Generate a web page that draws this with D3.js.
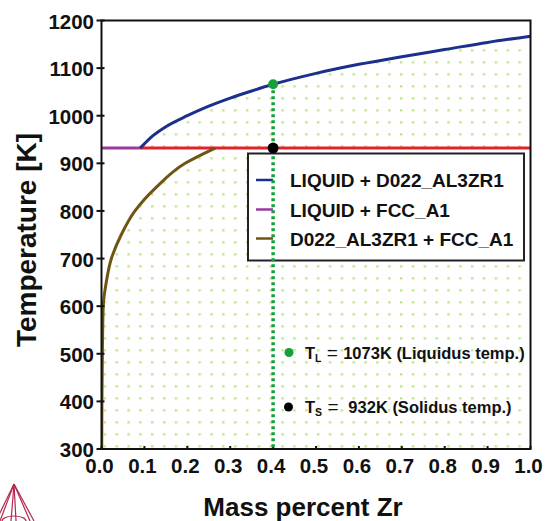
<!DOCTYPE html>
<html>
<head>
<meta charset="utf-8">
<script src="https://cdn.jsdelivr.net/npm/d3@7/dist/d3.min.js"></script>
<style>
body { margin: 0; background: #fff; }
text { font-family: "Liberation Sans", Arial, sans-serif; font-weight: bold; fill: #111; }
</style>
</head>
<body>
<svg id="chart" width="547" height="521"></svg>
<script>
// axis ticks
const xTicks = [0, 0.1, 0.2, 0.3, 0.4, 0.5, 0.6, 0.7, 0.8, 0.9, 1.0];
const yTicks = [300, 400, 500, 600, 700, 800, 900, 1000, 1100, 1200];

// liquidus (LIQUID + D022_AL3ZR1 boundary), mass % Zr vs K
const liqX = [0.09, 0.10, 0.12, 0.15, 0.20, 0.25, 0.30, 0.35, 0.40, 0.50, 0.60, 0.70, 0.80, 0.90, 1.00];
const liqT = [932, 941, 958, 977, 1000, 1020, 1037, 1052, 1066, 1089, 1108, 1124, 1139, 1154, 1167];

// solvus (D022_AL3ZR1 + FCC_A1 boundary)
const solT = [300, 400, 500, 600, 650, 700, 750, 800, 850, 900, 932];
const solX = [0.0005, 0.001, 0.002, 0.004, 0.011, 0.023, 0.046, 0.078, 0.128, 0.195, 0.265];

// horizontal at 932 K
const flatT = 932;
const flatStart = 0.09;

// marked composition
const markX = 0.4;
const markTL = 1066;
const markTS = 932;

const legendNames = ["LIQUID + D022_AL3ZR1", "LIQUID + FCC_A1", "D022_AL3ZR1 + FCC_A1"];
const legendColors = ["#1b2f8c", "#9a3a9f", "#6e5512"];

const svg = d3.select("#chart");

const pLeft = 101.5, pRight = 530.5, pTop = 20.5, pBottom = 449;

const x = d3.scaleLinear().domain([0, 1]).range([pLeft, pRight]);
const y = d3.scaleLinear().domain([300, 1200]).range([pBottom, pTop]);

const defs = svg.append("defs");
const pat = defs.append("pattern")
  .attr("id", "dots")
  .attr("patternUnits", "userSpaceOnUse")
  .attr("x", 115.5).attr("y", 277.1)
  .attr("width", 11.85).attr("height", 12);
pat.append("rect")
  .attr("width", 2.5).attr("height", 2.5)
  .attr("fill", "#c3ea8a");

defs.append("clipPath").attr("id", "plotclip")
  .append("rect")
  .attr("x", pLeft).attr("y", pTop)
  .attr("width", pRight - pLeft).attr("height", pBottom - pTop);

// two-phase area under liquidus and right of solvus
const liqPts = liqX.map((d, i) => [d, liqT[i]]);
const solPts = solX.map((d, i) => [d, solT[i]]);

const liqLine = d3.line().x(d => x(d[0])).y(d => y(d[1])).curve(d3.curveMonotoneX);
const solLine = d3.line().x(d => x(d[0])).y(d => y(d[1])).curve(d3.curveMonotoneY);

const areaPath = liqLine(liqPts)
  + "L" + x(1) + "," + y(300)
  + "L" + x(solX[0]) + "," + y(300)
  + solLine(solPts).replace(/^M/, "L")
  + "L" + x(flatStart) + "," + y(flatT) + "Z";

const g = svg.append("g").attr("clip-path", "url(#plotclip)");

g.append("path")
  .attr("d", areaPath)
  .attr("fill", "url(#dots)");

g.append("line")
  .attr("x1", x(0)).attr("x2", x(flatStart))
  .attr("y1", y(flatT)).attr("y2", y(flatT))
  .attr("stroke", legendColors[1]).attr("stroke-width", 3);
g.append("line")
  .attr("x1", x(flatStart)).attr("x2", x(1))
  .attr("y1", y(flatT)).attr("y2", y(flatT))
  .attr("stroke", "#e5202b").attr("stroke-width", 3);

g.append("path")
  .attr("d", liqLine(liqPts))
  .attr("fill", "none")
  .attr("stroke", legendColors[0]).attr("stroke-width", 3);

g.append("path")
  .attr("d", solLine(solPts))
  .attr("fill", "none")
  .attr("stroke", legendColors[2]).attr("stroke-width", 3);

// frame
svg.append("rect")
  .attr("x", pLeft).attr("y", pTop)
  .attr("width", pRight - pLeft).attr("height", pBottom - pTop)
  .attr("fill", "none").attr("stroke", "#111").attr("stroke-width", 2);

// ticks
svg.append("g").selectAll("line")
  .data(xTicks).enter().append("line")
  .attr("x1", d => x(d)).attr("x2", d => x(d))
  .attr("y1", pBottom).attr("y2", pBottom - 3)
  .attr("stroke", "#111").attr("stroke-width", 2);

svg.append("g").selectAll("line")
  .data(yTicks).enter().append("line")
  .attr("x1", pLeft - 5).attr("x2", pLeft + 3)
  .attr("y1", d => y(d)).attr("y2", d => y(d))
  .attr("stroke", "#111").attr("stroke-width", 2);

svg.append("g").selectAll("text")
  .data(xTicks).enter().append("text")
  .attr("x", d => x(d) - 2)
  .attr("y", 473)
  .attr("text-anchor", "middle")
  .style("font-size", "20.5px")
  .text(d => d3.format(".1f")(d));

svg.append("g").selectAll("text")
  .data(yTicks).enter().append("text")
  .attr("x", 94)
  .attr("y", d => y(d) + 8)
  .attr("text-anchor", "end")
  .style("font-size", "20.5px")
  .text(d => d);

// axis titles
svg.append("text")
  .attr("x", 303).attr("y", 516)
  .attr("text-anchor", "middle")
  .style("font-size", "26px")
  .text("Mass percent Zr");

svg.append("text")
  .attr("transform", "translate(36,240) rotate(-90)")
  .attr("text-anchor", "middle")
  .style("font-size", "28px")
  .text("Temperature [K]");

// legend
const lg = svg.append("g");
lg.append("rect")
  .attr("x", 248).attr("y", 153.5)
  .attr("width", 276).attr("height", 107)
  .attr("fill", "#fff").attr("stroke", "#222").attr("stroke-width", 2);

const rowY = [180, 209.5, 238.5];
lg.selectAll("line.key")
  .data(legendNames).enter().append("line")
  .attr("class", "key")
  .attr("x1", 256).attr("x2", 273)
  .attr("y1", (d, i) => rowY[i]).attr("y2", (d, i) => rowY[i])
  .attr("stroke", (d, i) => legendColors[i]).attr("stroke-width", 2.5);
lg.selectAll("text")
  .data(legendNames).enter().append("text")
  .attr("x", 290)
  .attr("y", (d, i) => rowY[i] + 7)
  .style("font-size", "19px")
  .text(d => d);

// vertical dotted at 0.4
svg.append("line")
  .attr("x1", x(markX)).attr("x2", x(markX))
  .attr("y1", y(markTL)).attr("y2", pBottom)
  .attr("stroke", "#16a03c").attr("stroke-width", 3.5)
  .attr("stroke-dasharray", "3,3");

svg.append("circle")
  .attr("cx", x(markX)).attr("cy", y(markTL)).attr("r", 5)
  .attr("fill", "#16a03c");
svg.append("circle")
  .attr("cx", x(markX)).attr("cy", y(markTS)).attr("r", 5.5)
  .attr("fill", "#000");

// annotations
svg.append("circle").attr("cx", 289).attr("cy", 352.5).attr("r", 4.5).attr("fill", "#16a03c");
svg.append("circle").attr("cx", 288.5).attr("cy", 407).attr("r", 4.5).attr("fill", "#000");

function note(yy, sub, rest) {
  const t = svg.append("text").attr("x", 305).attr("y", yy).style("font-size", "16.5px");
  t.append("tspan").text("T");
  t.append("tspan").attr("dy", 3).style("font-size", "10.5px").text(sub);
  t.append("tspan").attr("dy", -3).style("font-weight", "normal").style("font-size", "19px").text("\u00a0=\u00a0");
  t.append("tspan").text(rest);
}
note(358.5, "L", "1073K (Liquidus temp.)");
note(412.5, "S", "\u00a0932K (Solidus temp.)");

// Thermo-Calc logo (corner)
const logo = svg.append("g").attr("fill", "none").attr("stroke", "#b3294d").attr("stroke-width", 1.2);
const apex = [14, 484];
[[-4, 521], [0, 521], [11, 521], [16, 521], [30, 521], [34, 521]].forEach(p => {
  logo.append("line").attr("x1", apex[0]).attr("y1", apex[1]).attr("x2", p[0]).attr("y2", p[1]);
});
logo.append("ellipse").attr("cx", 14).attr("cy", 521).attr("rx", 12).attr("ry", 5);
</script>
</body>
</html>
